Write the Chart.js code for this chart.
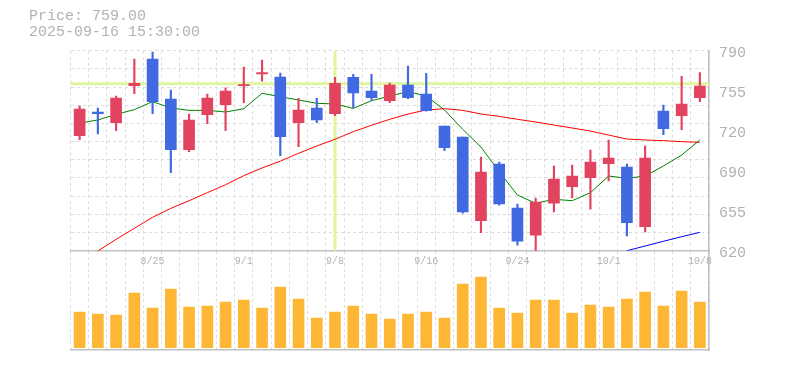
<!DOCTYPE html>
<html>
<head>
<meta charset="utf-8">
<script src="https://cdn.jsdelivr.net/npm/chart.js@4.4.0/dist/chart.umd.min.js"></script>
<style>
  html, body { margin: 0; padding: 0; background: #fff; }
  #wrap { position: relative; width: 785px; height: 370px; overflow: hidden; }
  #header {
    position: absolute; left: 29px; top: 9px; z-index: 3;
    font: 15px "Liberation Mono", monospace; line-height: 15.5px;
    color: #b2b2b2; white-space: pre;
  }
  #priceChart { position: absolute; left: 0; top: 0; z-index: 2; }
  #volChart { position: absolute; left: 0; top: 251px; z-index: 1; }
</style>
</head>
<body>
<div id="wrap">
  <div id="header">Price: 759.00
2025-09-16 15:30:00</div>
  <canvas id="priceChart" width="785" height="275"></canvas>
  <canvas id="volChart" width="785" height="109"></canvas>
</div>
<script>
// Trading days
const dates = [
  '8/19', '8/20', '8/21', '8/22', '8/25', '8/26', '8/27', '8/28', '8/29',
  '9/1', '9/2', '9/3', '9/4', '9/5', '9/8', '9/9', '9/10', '9/11', '9/12',
  '9/16', '9/17', '9/18', '9/19', '9/22', '9/24', '9/25', '9/26', '9/29', '9/30',
  '10/1', '10/2', '10/3', '10/6', '10/7', '10/8'
];
const tickDates = ['8/25', '9/1', '9/8', '9/16', '9/24', '10/1', '10/8'];

// OHLC
const open = [
  717.8, 737.9, 728.8, 760.2, 782.9, 748.9, 705.9, 735.6, 744.1, 760.2,
  770.2, 767.6, 728.8, 741.3, 736.5, 767.4, 755.7, 747.5, 760.8, 753.2,
  726.0, 716.6, 645.5, 693.7, 656.2, 633.3, 660.5, 674.4, 682.1, 694.0,
  691.1, 640.4, 738.7, 734.8, 750.1
];
const high = [
  743.0, 741.3, 751.5, 782.9, 788.9, 756.6, 736.2, 753.2, 758.5, 776.1,
  782.0, 771.0, 749.5, 749.5, 767.4, 769.9, 769.9, 762.5, 777.0, 770.7,
  726.0, 716.6, 699.6, 695.4, 659.7, 664.8, 692.0, 692.8, 705.6, 714.1,
  693.7, 709.0, 743.8, 768.2, 771.5
];
const low = [
  714.4, 719.2, 722.0, 753.5, 736.5, 686.3, 704.2, 728.0, 722.0, 745.9,
  764.2, 700.8, 708.4, 728.8, 734.8, 741.6, 747.8, 745.9, 749.2, 738.5,
  705.0, 652.0, 635.4, 658.6, 624.8, 619.5, 652.9, 664.8, 655.4, 679.3,
  632.5, 635.9, 718.6, 722.9, 746.7
];
const close = [
  740.4, 736.5, 749.8, 762.2, 746.7, 705.9, 731.1, 749.8, 755.7, 761.3,
  771.3, 716.9, 739.6, 731.1, 762.2, 754.1, 750.1, 760.8, 750.1, 739.0,
  707.6, 652.9, 686.9, 659.7, 628.2, 661.4, 680.9, 683.5, 695.4, 698.8,
  643.8, 698.8, 723.7, 744.7, 760.0
];

// Moving averages
const ma5 = [
  728.5, 731.1, 735.9, 739.9, 746.7, 741.3, 739.3, 739.3, 737.9, 740.7,
  753.8, 750.9, 748.1, 745.3, 744.7, 741.0, 747.5, 751.5, 755.2, 751.5,
  739.6, 723.2, 708.1, 687.2, 667.3, 660.3, 663.7, 662.5, 669.3, 683.5,
  681.5, 683.5, 692.0, 701.3, 714.1
];
const ma25 = [
  null, 619.7, 629.7, 639.0, 648.4, 656.0, 662.5, 669.3, 676.1, 683.8,
  690.3, 696.1, 702.8, 709.0, 714.7, 721.2, 726.6, 731.7, 736.2, 739.6,
  740.7, 739.3, 736.2, 734.2, 731.7, 729.4, 726.8, 724.3, 721.7, 718.3,
  714.9, 714.1, 713.5, 712.7, 712.1
];
const ma75 = [
  null, null, null, null, null, null, null, null, null, null,
  null, null, null, null, null, null, null, null, null, null,
  null, null, null, null, null, null, null, null, null, null,
  620.0, 624.0, 628.0, 631.9, 635.6
];

// Volume (thousand shares)
const volume = [
  35.7, 33.7, 32.7, 54.7, 39.7, 58.7, 40.7, 41.7, 45.7, 47.7,
  39.7, 60.7, 48.7, 29.7, 35.7, 41.7, 33.7, 28.7, 33.7, 35.7,
  29.7, 63.7, 70.7, 39.7, 34.7, 47.7, 47.7, 34.7, 42.7, 40.7,
  48.7, 55.7, 41.7, 56.7, 45.7
];

// Price axis
const priceTicks = [620, 654, 688, 722, 756, 790];
const priceTickLabels = ['620', '655', '690', '720', '755', '790'];

// Cursor position
const crossIndex = 14;
const crossPrice = 762;

const UP = '#e2445f';
const DOWN = '#4169e1';
const GRID = '#dcdcdc';
const AXIS = '#c0c0c0';
const TEXT = '#b2b2b2';
const MONO = '"Liberation Mono", monospace';

const candleColors = close.map((c, i) => c >= open[i] ? UP : DOWN);

const crosshair = {
  id: 'crosshair',
  beforeDatasetsDraw(chart) {
    const { ctx, chartArea, scales } = chart;
    const x = scales.x.getPixelForValue(crossIndex);
    const y = scales.y.getPixelForValue(crossPrice);
    ctx.save();
    ctx.strokeStyle = '#e0f5a0';
    ctx.lineWidth = 3;
    ctx.beginPath();
    ctx.moveTo(chartArea.left, y);
    ctx.lineTo(chartArea.right, y);
    ctx.moveTo(x, chartArea.top);
    ctx.lineTo(x, chartArea.bottom);
    ctx.stroke();
    ctx.restore();
  }
};

function lineSet(data, color) {
  return {
    type: 'line',
    data: data,
    borderColor: color,
    borderWidth: 1,
    pointRadius: 0,
    tension: 0,
    yAxisID: 'y',
    order: 3
  };
}

new Chart(document.getElementById('priceChart'), {
  type: 'bar',
  data: {
    labels: dates,
    datasets: [
      {
        data: open.map((o, i) => [o, close[i]]),
        backgroundColor: candleColors,
        barThickness: 11,
        grouped: false,
        yAxisID: 'y',
        order: 1
      },
      {
        data: low.map((l, i) => [l, high[i]]),
        backgroundColor: candleColors,
        barThickness: 1.5,
        grouped: false,
        yAxisID: 'y',
        order: 2
      },
      lineSet(ma5, '#008000'),
      lineSet(ma25, '#ff0000'),
      lineSet(ma75, '#0000ff')
    ]
  },
  options: {
    responsive: false,
    animation: false,
    layout: { padding: { left: 70.5, top: 50.7, right: 0, bottom: 0 } },
    plugins: { legend: { display: false }, tooltip: { enabled: false } },
    scales: {
      x: {
        offset: true,
        grid: { offset: true, color: GRID, drawTicks: false },
        border: { display: true, color: AXIS, width: 1.5, dash: [3, 3] },
        ticks: {
          autoSkip: false, maxRotation: 0, padding: 5,
          color: TEXT, font: { family: MONO, size: 10 },
          callback: (v, i) => tickDates.includes(dates[i]) ? dates[i] : ''
        },
        afterFit: s => { s.height = 24.3; }
      },
      y: {
        position: 'right',
        min: 620,
        max: 790,
        grid: { display: false, drawTicks: false },
        border: { display: true, color: AXIS, width: 1.5 },
        afterBuildTicks: s => { s.ticks = priceTicks.map(v => ({ value: v })); },
        ticks: {
          padding: 10, labelOffset: 2,
          color: TEXT, font: { family: MONO, size: 15 },
          callback: (v, i) => priceTickLabels[i]
        },
        afterFit: s => { s.width = 76; }
      },
      yGrid: {
        position: 'left',
        min: 0,
        max: 11,
        grid: { color: GRID, drawTicks: false },
        border: { display: false, dash: [3, 3] },
        ticks: { display: false, stepSize: 1 },
        afterFit: s => { s.width = 0; }
      }
    }
  },
  plugins: [crosshair]
});

new Chart(document.getElementById('volChart'), {
  type: 'bar',
  data: {
    labels: dates,
    datasets: [{
      data: volume,
      backgroundColor: '#feb734',
      barThickness: 11,
      yAxisID: 'yv'
    }]
  },
  options: {
    responsive: false,
    animation: false,
    layout: { padding: { left: 70.5, top: 0, right: 0, bottom: 10 } },
    plugins: { legend: { display: false }, tooltip: { enabled: false } },
    scales: {
      x: {
        offset: true,
        grid: { offset: true, color: GRID, drawTicks: false },
        border: { display: true, color: AXIS, width: 1.5, dash: [3, 3] },
        ticks: { display: false },
        afterFit: s => { s.height = 0; }
      },
      yv: {
        position: 'right',
        min: -2.3,
        max: 96.7,
        grid: { display: false, drawTicks: false },
        border: { display: true, color: AXIS, width: 1.5 },
        ticks: { display: false },
        afterFit: s => { s.width = 76; }
      }
    }
  }
});
</script>
</body>
</html>
